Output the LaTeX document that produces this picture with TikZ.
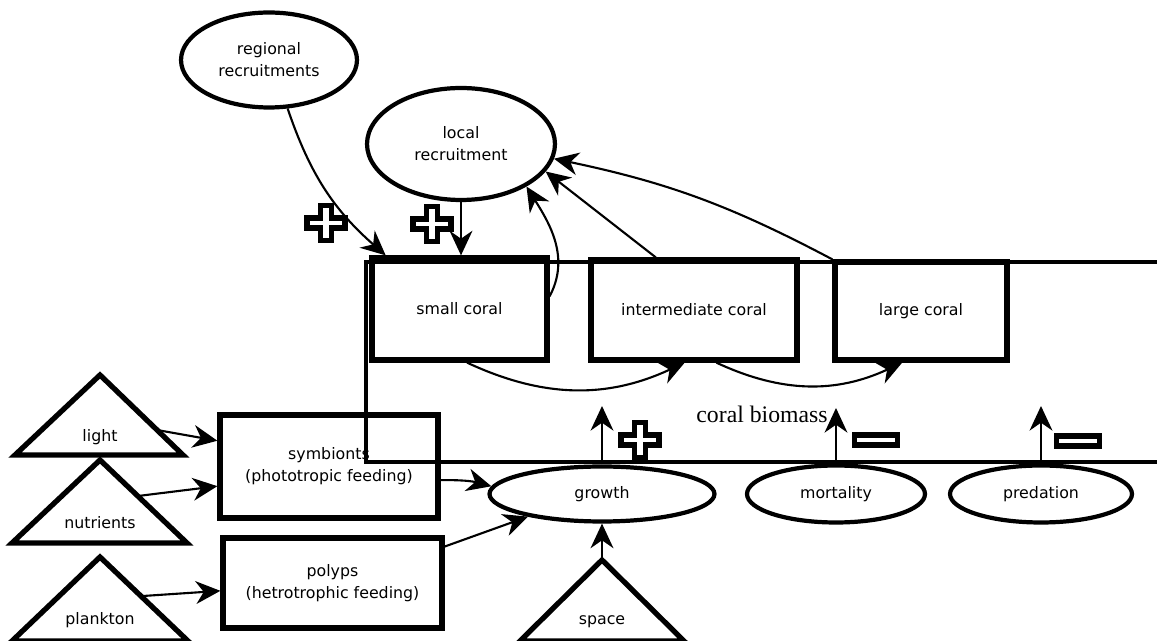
\documentclass[tikz,border=0pt]{standalone}
\usepackage{fontspec}
\setmainfont{DejaVu Sans}
\newfontfamily\biomassfont{Liberation Serif}
\usetikzlibrary{shapes.geometric,arrows.meta}

\begin{document}
\begin{tikzpicture}[x=0.02cm,y=-0.02cm,font=\fontsize{9pt}{12.5pt}\selectfont]
    \tikzset{stage/.style = {shape=rectangle,draw,line width=3pt,inner sep=0pt,align=center}}
    \tikzset{process/.style = {shape=ellipse,draw,line width=2.4pt,inner sep=0pt,align=center}}
    \tikzset{driver/.style = {draw,line width=3pt,line join=miter}}
    \tikzset{link/.style = {->,line width=1.2pt,> = {Stealth[length=14pt,width=13pt,inset=4.5pt]}}}
    \tikzset{plus sign/.pic = {\draw[line width=3.2pt] (-5.5,-17.5) -- (5.5,-17.5) -- (5.5,-5) -- (19,-5) -- (19,5) -- (5.5,5)
        -- (5.5,17.5) -- (-5.5,17.5) -- (-5.5,5) -- (-19,5) -- (-19,-5) -- (-5.5,-5) -- cycle;}}
    \tikzset{minus sign/.pic = {\draw[line width=3pt] (-21.5,-5) rectangle (21.5,5);}}
    \useasboundingbox (0,0) rectangle (1157,641);

    % recruitment
    \node[process,minimum width=3.52cm,minimum height=1.9cm] (regional) at (269,60) {regional\\recruitments};
    \node[process,minimum width=3.76cm,minimum height=2.24cm] (local) at (461,144) {local\\recruitment};

    % size classes
    \node[stage,minimum width=3.5cm,minimum height=2.04cm] (small) at (459.5,309) {small coral};
    \node[stage,minimum width=4.12cm,minimum height=2cm] (inter) at (694,310) {intermediate coral};
    \node[stage,minimum width=3.44cm,minimum height=1.96cm] (large) at (921,311) {large coral};

    % feeding
    \node[stage,minimum width=4.36cm,minimum height=2.06cm] (symbionts) at (329,466.5) {symbionts\\(phototropic feeding)};
    \node[stage,minimum width=4.38cm,minimum height=1.8cm] (polyps) at (332.5,583) {polyps\\(hetrotrophic feeding)};

    % fluxes
    \node[process,minimum width=4.5cm,minimum height=1.1cm] (growth) at (602,494) {growth};
    \node[process,minimum width=3.56cm,minimum height=1.14cm] (mortality) at (836,494) {mortality};
    \node[process,minimum width=3.64cm,minimum height=1.14cm] (predation) at (1041,494) {predation};

    % external drivers
    \draw[driver] (100,375) -- (183,455) -- (15,455) -- cycle;
    \draw[driver] (100,460) -- (187,543) -- (12,543) -- cycle;
    \draw[driver] (100,557) -- (188,641) -- (12,641) -- cycle;
    \draw[driver] (602,560) -- (684,641) -- (520,641) -- cycle;
    \node (light) at (100,437) {light};
    \node (nutrients) at (100,523) {nutrients};
    \node (plankton) at (100,620) {plankton};
    \node (space) at (602,622) {space};
    \coordinate (light out) at (157,430);
    \coordinate (nutrients out) at (138,496);
    \coordinate (plankton out) at (143,596);
    \coordinate (space top) at (602,560);

    % coral biomass compartment
    \draw[line width=2.4pt] (1160,262) -- (366,262) -- (366,462) -- (1160,462);
    \node[font=\biomassfont\fontsize{13.5pt}{15pt}\selectfont,anchor=base] (biomass) at (762,423) {coral biomass};

    \coordinate (growth gain) at (602,406);
    \coordinate (mortality loss) at (836,408);
    \coordinate (predation loss) at (1041,406);

    \draw[link, bend right=15] (regional.-69) to (small.144);
    \draw[link] (local.south) to (local.south |- small.north);
    \draw[link] (small.8) to[out=62,in=-58] (local.-33);
    \draw[link] (inter.126) to (local.-18);
    \draw[link, bend right=8] (large.north west) to (local.-9);
    \draw[link, bend right=25] (small.-82) to (inter.-100);
    \draw[link, bend right=25] (inter.-67) to (large.-110);

    \draw[link] (light out) to (symbionts.167);
    \draw[link] (nutrients out) to (symbionts.190);
    \draw[link] (plankton out) to (polyps.184);
    \draw[link, bend left=8] (symbionts.-7) to (growth.176);
    \draw[link] (polyps.18) to (growth.197);
    \draw[link] (space top) to (growth.south);

    \draw[link] (growth.north) to (growth gain);
    \draw[link] (mortality.north) to (mortality loss);
    \draw[link] (predation.north) to (predation loss);

    \pic at (326,223) {plus sign};
    \pic at (432,224) {plus sign};
    \pic at (640,440) {plus sign};
    \pic at (876,440) {minus sign};
    \pic at (1078,441) {minus sign};
\end{tikzpicture}
\end{document}
